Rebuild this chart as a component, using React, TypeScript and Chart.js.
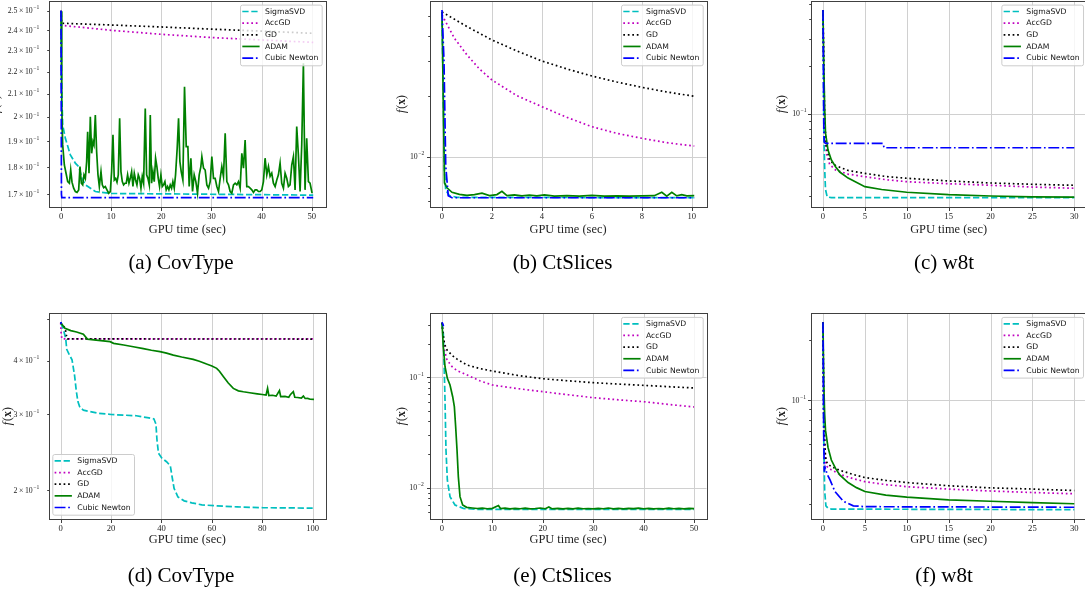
import React, { useEffect, useRef } from 'react';
import { Chart, registerables } from 'chart.js';
Chart.register(...registerables);

type Pt = [number, number];

// ---------------- series names / styles ----------------
const SERIES_NAMES = ['SigmaSVD', 'AccGD', 'GD', 'ADAM', 'Cubic Newton'];
const SERIES_COLORS = ['#00bfbf', '#bf00bf', '#000000', '#008000', '#0000ff'];
const SERIES_DASH: number[][] = [[6.3, 2.7], [1.7, 2.8], [1.7, 2.8], [], [10.9, 2.7, 1.7, 2.7]];

// ---------------- (a) CovType ----------------
const aSigmaSVD: Pt[] = [[0, 0.25], [0.1, 0.215], [0.33, 0.1967], [0.86, 0.1912], [1.86, 0.1847], [2.85, 0.1815], [3.52, 0.1802], [4.18, 0.1758], [4.85, 0.1734], [6.84, 0.171], [9.83, 0.1703], [25.4, 0.1701], [50.3, 0.1697]];
const aAccGD: Pt[] = [[0, 0.25], [0.1, 0.2424], [5, 0.2412], [10, 0.2399], [15, 0.2389], [20, 0.2379], [25, 0.2371], [30, 0.2363], [35, 0.2357], [40, 0.2351], [45, 0.2345], [50.3, 0.2339]];
const aGD: Pt[] = [[0, 0.25], [0.1, 0.2435], [10, 0.2426], [20, 0.2416], [30, 0.2405], [40, 0.2395], [50.3, 0.2384]];
const aADAM: Pt[] = [[0, 0.2497], [0.15, 0.205], [0.33, 0.1886], [0.66, 0.1808], [1.0, 0.1777], [1.33, 0.1746], [1.66, 0.174], [1.93, 0.1789], [2.19, 0.1744], [2.52, 0.1722], [2.86, 0.171], [3.19, 0.1707], [3.52, 0.1716], [3.78, 0.1802], [4.05, 0.174], [4.32, 0.1734], [4.58, 0.1771], [4.85, 0.1758], [5.11, 0.1821], [5.31, 0.1939], [5.58, 0.1777], [5.84, 0.2001], [6.11, 0.1853], [6.37, 0.1899], [6.57, 0.1886], [6.84, 0.2008], [7.1, 0.186], [7.37, 0.1771], [7.64, 0.1728], [7.97, 0.1783], [8.23, 0.1734], [8.5, 0.1724], [8.83, 0.1728], [9.16, 0.1716], [9.5, 0.1704], [9.83, 0.171], [10.09, 0.1783], [10.36, 0.1926], [10.62, 0.1752], [10.89, 0.1758], [11.16, 0.1744], [11.42, 0.1771], [11.69, 0.1994], [11.95, 0.1783], [12.22, 0.1746], [12.48, 0.1734], [12.75, 0.174], [13.01, 0.174], [13.28, 0.1771], [13.55, 0.174], [13.81, 0.1758], [14.08, 0.1783], [14.34, 0.1728], [14.61, 0.1777], [14.87, 0.1752], [15.14, 0.1734], [15.41, 0.1771], [15.67, 0.1758], [15.94, 0.1722], [16.2, 0.1765], [16.47, 0.174], [16.8, 0.2036], [17.07, 0.1771], [17.33, 0.1758], [17.6, 0.1734], [17.8, 0.2008], [18.06, 0.174], [18.33, 0.1783], [18.59, 0.1746], [18.86, 0.1834], [19.12, 0.1802], [19.39, 0.1758], [19.65, 0.1728], [19.92, 0.1771], [20.19, 0.1728], [20.45, 0.1734], [20.72, 0.1746], [20.98, 0.1716], [21.25, 0.1728], [21.51, 0.1716], [21.78, 0.1734], [22.05, 0.1722], [22.31, 0.1746], [22.58, 0.1722], [22.84, 0.1771], [23.17, 0.1873], [23.44, 0.1994], [23.71, 0.1821], [23.97, 0.1783], [24.3, 0.1752], [24.63, 0.2131], [24.97, 0.1879], [25.3, 0.1879], [25.56, 0.1728], [25.9, 0.1834], [26.23, 0.171], [26.56, 0.1771], [26.89, 0.1746], [27.22, 0.1704], [27.56, 0.1771], [27.89, 0.1802], [28.09, 0.184], [28.42, 0.1796], [28.75, 0.1789], [29.08, 0.1734], [29.42, 0.1722], [29.75, 0.1746], [30.08, 0.184], [30.41, 0.1758], [30.74, 0.1758], [31.08, 0.1728], [31.41, 0.171], [31.74, 0.1758], [32.07, 0.1802], [32.4, 0.1765], [32.74, 0.1932], [33.07, 0.1746], [33.4, 0.1734], [33.73, 0.171], [34.06, 0.1704], [34.4, 0.1734], [34.73, 0.174], [35.06, 0.1734], [35.39, 0.1746], [35.72, 0.1722], [36.06, 0.1853], [36.39, 0.1796], [36.72, 0.1905], [37.05, 0.1728], [37.38, 0.1728], [37.72, 0.1722], [38.05, 0.1716], [38.38, 0.1707], [38.71, 0.1716], [39.04, 0.1716], [39.38, 0.171], [39.71, 0.171], [40.04, 0.1716], [40.37, 0.1746], [40.7, 0.1834], [41.04, 0.1771], [41.37, 0.1802], [41.7, 0.1765], [42.03, 0.1777], [42.36, 0.174], [42.7, 0.1728], [43.03, 0.1752], [43.36, 0.1771], [43.69, 0.1815], [44.02, 0.174], [44.36, 0.1722], [44.69, 0.1777], [45.02, 0.1758], [45.35, 0.1728], [45.68, 0.1734], [46.02, 0.1808], [46.35, 0.184], [46.68, 0.1716], [47.01, 0.196], [47.34, 0.1847], [47.68, 0.171], [48.01, 0.1886], [48.34, 0.2239], [48.67, 0.1716], [49.0, 0.1912], [49.34, 0.1746], [49.67, 0.174], [50.07, 0.1704]];
const aCubicNewton: Pt[] = [[0, 0.25], [0.08, 0.17], [0.15, 0.1688], [50.3, 0.1688]];
const aXTicks = [0, 10, 20, 30, 40, 50];
const aYTicks = [0.17, 0.18, 0.19, 0.2, 0.21, 0.22, 0.23, 0.24, 0.25];
const aYTickLabels = ['1.7', '1.8', '1.9', '2', '2.1', '2.2', '2.3', '2.4', '2.5'];

// ---------------- (b) CtSlices ----------------
const bSigmaSVD: Pt[] = [[0, 0.0525], [0.05, 0.02], [0.1, 0.0085], [0.15, 0.0068], [0.3, 0.0064], [0.6, 0.00628], [10.1, 0.00625]];
const bAccGD: Pt[] = [[0, 0.0507], [0.5, 0.0388], [1, 0.0321], [1.5, 0.02732], [2, 0.02408], [3, 0.02012], [4, 0.01773], [5, 0.0157], [6, 0.0141], [7, 0.01307], [8, 0.01235], [9, 0.01174], [10.1, 0.0113]];
const bGD: Pt[] = [[0, 0.0525], [1, 0.0444], [2, 0.0381], [3, 0.03357], [4, 0.02993], [5, 0.02732], [6, 0.02521], [7, 0.02353], [8, 0.02214], [9, 0.02099], [10.1, 0.01998]];
const bADAM: Pt[] = [[0, 0.0525], [0.1, 0.0074], [0.2, 0.007], [0.4, 0.00665], [0.7, 0.0065], [1.0, 0.00642], [1.3, 0.00648], [1.6, 0.00658], [1.9, 0.0064], [2.2, 0.00648], [2.4, 0.00673], [2.6, 0.0064], [2.9, 0.00646], [3.2, 0.00638], [3.5, 0.00644], [3.8, 0.00638], [4.1, 0.00645], [4.5, 0.00636], [5, 0.0064], [5.5, 0.00637], [6, 0.00642], [6.5, 0.00636], [7, 0.00638], [7.5, 0.00636], [8, 0.00638], [8.5, 0.0064], [8.8, 0.00665], [9.0, 0.00637], [9.2, 0.00665], [9.4, 0.00638], [9.6, 0.00648], [9.8, 0.00638], [10.1, 0.0064]];
const bCubicNewton: Pt[] = [[0, 0.0537], [0.08, 0.03], [0.15, 0.009], [0.25, 0.0064], [0.4, 0.00625], [10.1, 0.00625]];
const bXTicks = [0, 2, 4, 6, 8, 10];

// ---------------- (c) w8t ----------------
const cSigmaSVD: Pt[] = [[0, 0.4575], [0.05, 0.2], [0.1, 0.08], [0.2, 0.045], [0.3, 0.033], [0.5, 0.0295], [1, 0.0292], [30, 0.0292]];
const cAccGD: Pt[] = [[0, 0.4575], [0.1, 0.18], [0.2, 0.08], [0.4, 0.056], [0.8, 0.0475], [1.5, 0.0438], [3, 0.0412], [5, 0.0397], [7.5, 0.038], [10, 0.0369], [15, 0.0358], [20, 0.035], [25, 0.0341], [30, 0.0335]];
const cGD: Pt[] = [[0, 0.4575], [0.1, 0.2], [0.2, 0.09], [0.4, 0.062], [0.8, 0.0505], [1.5, 0.0467], [3, 0.0435], [5, 0.0417], [7.5, 0.0398], [10, 0.0388], [15, 0.0373], [20, 0.0362], [25, 0.0355], [30, 0.035]];
const cADAM: Pt[] = [[0, 0.4575], [0.1, 0.2], [0.2, 0.11], [0.3, 0.0754], [0.6, 0.0587], [1, 0.0507], [1.5, 0.0459], [2, 0.0425], [3, 0.0389], [5, 0.0343], [7, 0.0329], [10, 0.0316], [15, 0.0305], [20, 0.0299], [25, 0.0295], [30, 0.0294]];
const cCubicNewton: Pt[] = [[0, 0.4575], [0.05, 0.2], [0.1, 0.08], [0.15, 0.066], [0.3, 0.0648], [7.15, 0.0648], [7.3, 0.0607], [30, 0.0607]];
const cXTicks = [0, 5, 10, 15, 20, 25, 30];

// ---------------- (d) CovType ----------------
const dSigmaSVD: Pt[] = [[0, 0.49], [1, 0.475], [2, 0.45], [2.4, 0.425], [3.5, 0.412], [4.5, 0.402], [5.5, 0.37], [6.2, 0.34], [6.8, 0.322], [7.6, 0.312], [9, 0.307], [15, 0.302], [20, 0.3], [25, 0.299], [30, 0.298], [35, 0.2945], [37, 0.293], [37.8, 0.285], [38.2, 0.262], [38.8, 0.244], [40, 0.238], [42, 0.233], [43.5, 0.228], [44.2, 0.215], [45, 0.202], [46.5, 0.193], [49, 0.189], [52, 0.187], [56, 0.185], [62, 0.184], [70, 0.183], [80, 0.1822], [90, 0.182], [100, 0.1818]];
const dAccGD: Pt[] = [[0, 0.49], [0.2, 0.46], [0.5, 0.4494], [100.5, 0.4494]];
const dGD: Pt[] = [[0, 0.49], [1, 0.482], [1.8, 0.476], [2.2, 0.46], [2.6, 0.4494], [100.5, 0.4492]];
const dADAM: Pt[] = [[0, 0.49], [1.7, 0.4757], [4, 0.47], [6.3, 0.4664], [9, 0.4607], [10.6, 0.449], [15, 0.446], [19.6, 0.4429], [21, 0.439], [25, 0.435], [28.8, 0.431], [32.8, 0.4269], [36, 0.423], [39.4, 0.4198], [42, 0.4165], [44.7, 0.4123], [48, 0.408], [52.6, 0.403], [55, 0.399], [57.9, 0.3929], [60, 0.389], [61.9, 0.384], [63, 0.378], [64.6, 0.3671], [66.5, 0.355], [68.5, 0.3449], [70.5, 0.3405], [72.5, 0.3388], [75, 0.337], [78, 0.335], [80, 0.3338], [81.5, 0.333], [82.1, 0.345], [82.6, 0.332], [84, 0.3325], [85.5, 0.331], [86.8, 0.341], [87.3, 0.33], [89, 0.3305], [90.5, 0.329], [91.2, 0.334], [92.3, 0.339], [92.9, 0.329], [94, 0.3285], [95.5, 0.3275], [96.3, 0.331], [97, 0.3268], [98, 0.327], [99, 0.3255], [100.5, 0.3253]];
const dCubicNewton: Pt[] = [[0, 0.492], [0.3, 0.487]];
const dXTicks = [0, 20, 40, 60, 80, 100];

// ---------------- (e) CtSlices ----------------
const eSigmaSVD: Pt[] = [[0, 0.312], [0.26, 0.2504], [0.6, 0.0623], [0.79, 0.02196], [1.06, 0.01175], [1.59, 0.00829], [2.58, 0.00697], [4.23, 0.0065], [6.9, 0.00636], [50, 0.00635]];
const eAccGD: Pt[] = [[0, 0.312], [0.2, 0.24], [0.5, 0.175], [1, 0.1435], [2, 0.1247], [3, 0.115], [5, 0.1048], [7.5, 0.093], [10, 0.0851], [15, 0.079], [20, 0.0741], [25, 0.0695], [30, 0.0654], [35, 0.0625], [40, 0.0601], [45, 0.0568], [50, 0.0538]];
const eGD: Pt[] = [[0, 0.312], [0.2, 0.25], [0.5, 0.2], [1, 0.1768], [2, 0.158], [3, 0.146], [5, 0.129], [7.5, 0.12], [10, 0.114], [15, 0.104], [20, 0.0971], [25, 0.093], [30, 0.0894], [35, 0.0868], [40, 0.0846], [45, 0.0822], [50, 0.08]];
const eADAM: Pt[] = [[0, 0.312], [0.26, 0.1893], [0.6, 0.1247], [1.06, 0.0979], [1.59, 0.0852], [2.12, 0.0667], [2.45, 0.0542], [2.71, 0.0357], [2.98, 0.02196], [3.24, 0.01259], [3.57, 0.00829], [4.1, 0.00697], [4.89, 0.00664], [6, 0.00655], [7, 0.00648], [8, 0.00652], [9, 0.00645], [10, 0.0065], [11.2, 0.0069], [11.6, 0.00648], [12.5, 0.00652], [13.5, 0.00644], [14.5, 0.0065], [15.5, 0.00645], [16.5, 0.00652], [17.5, 0.00643], [18.5, 0.00648], [19.5, 0.00655], [20.5, 0.00645], [21.2, 0.00668], [21.8, 0.00645], [23, 0.0065], [24, 0.00643], [25, 0.00649], [26, 0.00644], [27, 0.00652], [28, 0.00645], [29, 0.00648], [30, 0.00643], [31, 0.0065], [32, 0.00645], [33, 0.00655], [34, 0.00644], [35, 0.00649], [36, 0.00643], [37, 0.0065], [38, 0.00646], [39, 0.00652], [40, 0.00645], [41, 0.0065], [42, 0.00644], [43, 0.00648], [44, 0.00643], [45, 0.00652], [46, 0.00645], [47, 0.00649], [48, 0.00644], [49, 0.0065], [50, 0.00647]];
const eCubicNewton: Pt[] = [[0, 0.315], [0.15, 0.305], [0.3, 0.29]];
const eXTicks = [0, 10, 20, 30, 40, 50];

// ---------------- (f) w8t ----------------
const fSigmaSVD: Pt[] = [[0, 0.2465], [0.05, 0.12], [0.1, 0.06], [0.2, 0.035], [0.35, 0.0295], [0.6, 0.0287], [1, 0.0284], [30, 0.0282]];
const fAccGD: Pt[] = [[0, 0.2465], [0.1, 0.075], [0.3, 0.049], [0.5, 0.0464], [1, 0.0447], [2, 0.0425], [3.5, 0.0405], [5, 0.039], [7.5, 0.0377], [10, 0.0368], [15, 0.0358], [20, 0.035], [25, 0.0344], [30, 0.0339]];
const fGD: Pt[] = [[0, 0.2465], [0.1, 0.08], [0.3, 0.052], [0.5, 0.0482], [1, 0.0464], [2, 0.0445], [3.5, 0.0425], [5, 0.0409], [7.5, 0.0396], [10, 0.0386], [15, 0.0372], [20, 0.0363], [25, 0.0358], [30, 0.0352]];
const fADAM: Pt[] = [[0, 0.2465], [0.1, 0.12], [0.2, 0.085], [0.3, 0.0708], [0.6, 0.058], [1, 0.0501], [1.5, 0.0455], [2, 0.0422], [3, 0.0386], [4, 0.0364], [5, 0.0348], [7.5, 0.0334], [10, 0.0326], [15, 0.0316], [20, 0.0311], [25, 0.0306], [30, 0.0302]];
const fCubicNewton: Pt[] = [[0, 0.2465], [0.05, 0.11], [0.1, 0.06], [0.16, 0.0438], [0.25, 0.046], [0.5, 0.0425], [0.84, 0.0398], [1.43, 0.0348], [2.43, 0.0311], [3.62, 0.0295], [5, 0.0292], [30, 0.029]];
const fXTicks = [0, 5, 10, 15, 20, 25, 30];

// ---------------- layout ----------------
const W = 1085;
const H = 592;
const SERIF = '"Liberation Serif", "DejaVu Serif", serif';
const SANS = '"DejaVu Sans", sans-serif';

interface YLabel { v: number; m: string | null; e: number }
interface PanelCfg {
  key: string;
  series: Pt[][];
  box: { L: number; T: number; R: number; B: number };
  xMin: number; xMax: number; frameXMax: number;
  yMin: number; yMax: number;
  xTicks: number[];
  yMajor: number[];
  yMinor: number[];
  yLabels: YLabel[];
  labelGap: number;
  yTitleX: number;
  legend: 'ur' | 'll';
  xTitleDy: number;
}

const PANELS: PanelCfg[] = [
  {
    key: 'a', series: [aSigmaSVD, aAccGD, aGD, aADAM, aCubicNewton],
    box: { L: 49, T: 1, R: 325.5, B: 207 }, xMin: -2.4, xMax: 52.75, frameXMax: 52.75,
    yMin: 0.16553, yMax: 0.25514, xTicks: aXTicks, yMajor: [], yMinor: aYTicks,
    yLabels: aYTicks.map((v, i) => ({ v, m: aYTickLabels[i], e: -1 })), labelGap: 9.7,
    yTitleX: -4.5, legend: 'ur', xTitleDy: 22.3,
  },
  {
    key: 'b', series: [bSigmaSVD, bAccGD, bGD, bADAM, bCubicNewton],
    box: { L: 429.5, T: 1, R: 706.5, B: 207 }, xMin: -0.5, xMax: 10.59, frameXMax: 10.59,
    yMin: 0.00562, yMax: 0.05952, xTicks: bXTicks, yMajor: [0.01],
    yMinor: [0.006, 0.007, 0.008, 0.009, 0.02, 0.03, 0.04, 0.05],
    yLabels: [{ v: 0.01, m: null, e: -2 }], labelGap: 5.2,
    yTitleX: 401.7, legend: 'ur', xTitleDy: 22.3,
  },
  {
    key: 'c', series: [cSigmaSVD, cAccGD, cGD, cADAM, cCubicNewton],
    box: { L: 810.5, T: 1, R: 1085, B: 207 }, xMin: -1.49, xMax: 31.28, frameXMax: 31.5,
    yMin: 0.02545, yMax: 0.5222, xTicks: cXTicks, yMajor: [0.1],
    yMinor: [0.03, 0.04, 0.05, 0.06, 0.07, 0.08, 0.09, 0.2, 0.3, 0.4, 0.5],
    yLabels: [{ v: 0.1, m: null, e: -1 }], labelGap: 4,
    yTitleX: 781.7, legend: 'ur', xTitleDy: 22.3,
  },
  {
    key: 'd', series: [dSigmaSVD, dAccGD, dGD, dADAM, dCubicNewton],
    box: { L: 49, T: 313.3, R: 325.5, B: 519 }, xMin: -4.64, xMax: 105.08, frameXMax: 105.08,
    yMin: 0.1715, yMax: 0.5155, xTicks: dXTicks, yMajor: [], yMinor: [0.2, 0.3, 0.4, 0.5],
    yLabels: [{ v: 0.2, m: '2', e: -1 }, { v: 0.3, m: '3', e: -1 }, { v: 0.4, m: '4', e: -1 }], labelGap: 9.7,
    yTitleX: 8, legend: 'll', xTitleDy: 21,
  },
  {
    key: 'e', series: [eSigmaSVD, eAccGD, eGD, eADAM, eCubicNewton],
    box: { L: 429.5, T: 313.3, R: 706.5, B: 519 }, xMin: -2.48, xMax: 52.48, frameXMax: 52.48,
    yMin: 0.005206, yMax: 0.38, xTicks: eXTicks, yMajor: [0.01, 0.1],
    yMinor: [0.006, 0.007, 0.008, 0.009, 0.02, 0.03, 0.04, 0.05, 0.06, 0.07, 0.08, 0.09, 0.2, 0.3],
    yLabels: [{ v: 0.01, m: null, e: -2 }, { v: 0.1, m: null, e: -1 }], labelGap: 5.8,
    yTitleX: 401.7, legend: 'ur', xTitleDy: 21,
  },
  {
    key: 'f', series: [fSigmaSVD, fAccGD, fGD, fADAM, fCubicNewton],
    box: { L: 810.5, T: 313.3, R: 1085, B: 519 }, xMin: -1.49, xMax: 31.28, frameXMax: 31.5,
    yMin: 0.02532, yMax: 0.2737, xTicks: fXTicks, yMajor: [0.1],
    yMinor: [0.03, 0.04, 0.05, 0.06, 0.07, 0.08, 0.09, 0.2],
    yLabels: [{ v: 0.1, m: null, e: -1 }], labelGap: 4.5,
    yTitleX: 781.7, legend: 'ur', xTitleDy: 21,
  },
];

const CAPTIONS = [
  { text: '(a) CovType', x: 181, y: 262 },
  { text: '(b) CtSlices', x: 562.5, y: 262 },
  { text: '(c) w8t', x: 944, y: 262 },
  { text: '(d) CovType', x: 181, y: 575 },
  { text: '(e) CtSlices', x: 562.5, y: 575 },
  { text: '(f) w8t', x: 944, y: 575 },
];

function drawSci(ctx: CanvasRenderingContext2D, xRight: number, y: number, m: string | null, e: number) {
  const fs = 7.8;
  const sfs = 5.6;
  const base = m ? `${m}\u2009\u00d7\u200910` : '10';
  const sup = '\u2212' + Math.abs(e);
  ctx.font = `${fs}px ${SERIF}`;
  const w1 = ctx.measureText(base).width;
  ctx.font = `${sfs}px ${SERIF}`;
  const w2 = ctx.measureText(sup).width;
  const x0 = xRight - w1 - w2 - 0.6;
  ctx.textAlign = 'left';
  ctx.textBaseline = 'middle';
  ctx.font = `${fs}px ${SERIF}`;
  ctx.fillText(base, x0, y + 0.5);
  ctx.font = `${sfs}px ${SERIF}`;
  ctx.fillText(sup, x0 + w1 + 0.6, y - 2.7);
}

function drawLegend(ctx: CanvasRenderingContext2D, x: number, y: number) {
  const w = 81.7;
  const h = 60.7;
  ctx.save();
  ctx.beginPath();
  ctx.roundRect(x + 0.5, y + 0.5, w, h, 2);
  ctx.fillStyle = 'rgba(255,255,255,0.8)';
  ctx.fill();
  ctx.strokeStyle = '#cccccc';
  ctx.lineWidth = 1;
  ctx.stroke();
  for (let i = 0; i < SERIES_NAMES.length; i++) {
    const ry = y + 6.9 + i * 11.65;
    ctx.beginPath();
    ctx.setLineDash(SERIES_DASH[i]);
    ctx.strokeStyle = SERIES_COLORS[i];
    ctx.lineWidth = 1.7;
    ctx.moveTo(x + 2.3, ry);
    ctx.lineTo(x + 19.6, ry);
    ctx.stroke();
    ctx.setLineDash([]);
    ctx.fillStyle = '#111';
    ctx.font = `7.7px ${SANS}`;
    ctx.textAlign = 'left';
    ctx.textBaseline = 'middle';
    ctx.fillText(SERIES_NAMES[i], x + 25, ry + 0.3);
  }
  ctx.restore();
}

function drawYTitle(ctx: CanvasRenderingContext2D, cx: number, cy: number) {
  const fs = 11.8;
  const parts: [string, string][] = [
    ['f', `italic ${fs}px ${SERIF}`],
    ['(', `${fs}px ${SERIF}`],
    ['x', `bold ${fs}px ${SERIF}`],
    [')', `${fs}px ${SERIF}`],
  ];
  ctx.save();
  ctx.translate(cx, cy);
  ctx.rotate(-Math.PI / 2);
  let total = 0;
  const widths: number[] = [];
  for (const [t, f] of parts) {
    ctx.font = f;
    const wd = ctx.measureText(t).width + (t === 'f' ? 1 : 0);
    widths.push(wd);
    total += wd;
  }
  let x = -total / 2;
  ctx.fillStyle = '#222';
  ctx.textBaseline = 'middle';
  ctx.textAlign = 'left';
  parts.forEach(([t, f], i) => {
    ctx.font = f;
    ctx.fillText(t, x, 0);
    x += widths[i];
  });
  ctx.restore();
}

function makeConfig(p: PanelCfg): any {
  const plugin = {
    id: 'mplFrame_' + p.key,
    beforeDatasetsDraw(chart: any) {
      const { ctx, chartArea: ca } = chart;
      const xs = chart.scales.x;
      const ys = chart.scales.y;
      const right = xs.getPixelForValue(p.frameXMax);
      ctx.save();
      ctx.strokeStyle = '#d0d0d0';
      ctx.lineWidth = 1;
      ctx.beginPath();
      for (const t of p.xTicks) {
        const px = Math.round(xs.getPixelForValue(t)) + 0.5;
        ctx.moveTo(px, ca.top);
        ctx.lineTo(px, ca.bottom);
      }
      for (const v of p.yMajor) {
        const py = Math.round(ys.getPixelForValue(v)) + 0.5;
        ctx.moveTo(ca.left, py);
        ctx.lineTo(right, py);
      }
      ctx.stroke();
      ctx.restore();
    },
    afterDraw(chart: any) {
      const { ctx, chartArea: ca } = chart;
      const xs = chart.scales.x;
      const ys = chart.scales.y;
      const left = ca.left;
      const top = ca.top;
      const bottom = ca.bottom;
      const right = xs.getPixelForValue(p.frameXMax);
      ctx.save();
      // frame
      ctx.strokeStyle = '#404040';
      ctx.lineWidth = 1;
      ctx.strokeRect(Math.round(left) + 0.5, Math.round(top) + 0.5, Math.round(right) - Math.round(left), Math.round(bottom) - Math.round(top));
      // x ticks
      ctx.beginPath();
      for (const t of p.xTicks) {
        const px = Math.round(xs.getPixelForValue(t)) + 0.5;
        ctx.moveTo(px, Math.round(bottom) + 0.5);
        ctx.lineTo(px, Math.round(bottom) + 4);
      }
      // y ticks
      for (const v of p.yMajor) {
        const py = Math.round(ys.getPixelForValue(v)) + 0.5;
        ctx.moveTo(Math.round(left) + 0.5, py);
        ctx.lineTo(Math.round(left) - 3, py);
      }
      for (const v of p.yMinor) {
        const py = Math.round(ys.getPixelForValue(v)) + 0.5;
        ctx.moveTo(Math.round(left) + 0.5, py);
        ctx.lineTo(Math.round(left) - 1.8, py);
      }
      ctx.stroke();
      ctx.fillStyle = '#222';
      ctx.font = `8.6px ${SERIF}`;
      ctx.textAlign = 'center';
      ctx.textBaseline = 'middle';
      for (const t of p.xTicks) {
        ctx.fillText(String(t), xs.getPixelForValue(t), bottom + 9.7);
      }
      for (const lab of p.yLabels) {
        drawSci(ctx, left - p.labelGap, ys.getPixelForValue(lab.v), lab.m, lab.e);
      }
      // axis titles
      ctx.font = `12.4px ${SERIF}`;
      ctx.textAlign = 'center';
      ctx.textBaseline = 'middle';
      ctx.fillStyle = '#222';
      ctx.fillText('GPU time (sec)', (left + right) / 2, bottom + p.xTitleDy);
      drawYTitle(ctx, p.yTitleX, (top + bottom) / 2);
      // legend
      if (p.legend === 'ur') drawLegend(ctx, right - 3.5 - 82, top + 3.6);
      else drawLegend(ctx, left + 3.3, bottom - 4 - 61);
      ctx.restore();
    },
  };

  const datasets = p.series.map((pts, i) => ({
    label: SERIES_NAMES[i],
    data: pts.map(([x, y]) => ({ x, y })),
    borderColor: SERIES_COLORS[i],
    backgroundColor: SERIES_COLORS[i],
    borderWidth: 1.7,
    borderDash: SERIES_DASH[i],
    pointRadius: 0,
    fill: false,
    tension: 0,
    order: 5 - i,
  }));

  return {
    type: 'line',
    data: { datasets },
    options: {
      animation: false,
      responsive: false,
      devicePixelRatio: 1,
      events: [],
      layout: {
        padding: { left: p.box.L, top: p.box.T, right: W - p.box.R, bottom: H - p.box.B },
      },
      plugins: { legend: { display: false }, tooltip: { enabled: false }, title: { display: false } },
      scales: {
        x: { type: 'linear', display: false, min: p.xMin, max: p.xMax },
        y: { type: 'logarithmic', display: false, min: p.yMin, max: p.yMax },
      },
    },
    plugins: [plugin],
  };
}

function Panel({ cfg }: { cfg: PanelCfg }) {
  const ref = useRef<HTMLCanvasElement>(null);
  useEffect(() => {
    if (!ref.current) return;
    const chart = new Chart(ref.current, makeConfig(cfg));
    return () => chart.destroy();
  }, [cfg]);
  return (
    <canvas
      ref={ref}
      width={W}
      height={H}
      style={{ position: 'absolute', left: 0, top: 0, width: W, height: H }}
    />
  );
}

export default function App() {
  useEffect(() => {
    document.body.style.margin = '0';
    document.body.style.overflow = 'hidden';
  }, []);
  return (
    <div style={{ position: 'fixed', left: 0, top: 0, width: W, height: H, background: '#ffffff', overflow: 'hidden' }}>
      {PANELS.map((p) => (
        <Panel key={p.key} cfg={p} />
      ))}
      {CAPTIONS.map((c) => (
        <div
          key={c.text}
          style={{
            position: 'absolute',
            left: c.x,
            top: c.y - 12,
            transform: 'translateX(-50%)',
            fontFamily: SERIF,
            fontSize: 21,
            lineHeight: '24px',
            whiteSpace: 'nowrap',
            color: '#000',
          }}
        >
          {c.text}
        </div>
      ))}
    </div>
  );
}
